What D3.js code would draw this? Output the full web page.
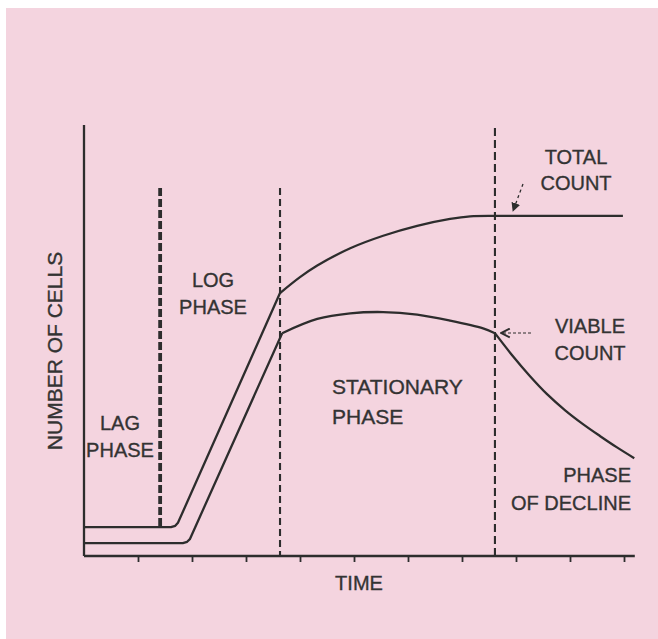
<!DOCTYPE html>
<html>
<head>
<meta charset="utf-8">
<script src="https://cdn.jsdelivr.net/npm/d3@7"></script>
<style>
  html, body { margin: 0; padding: 0; background: #ffffff; }
  svg { display: block; }
  text { font-family: "Liberation Sans", Arial, Helvetica, sans-serif; fill: #333333; stroke: #333333; stroke-width: 0.35px; }
</style>
</head>
<body>
<script>
// ---- data (time units, cell-number units) ----
const ticks = [1, 2, 3, 4, 5, 6, 7, 8, 9, 10];
const phaseBounds = [1.41, 3.63, 7.61];

// total count: growth part (lag + log), stationary rise, flat plateau
const totalGrowth = [[0, 0.67], [1.61, 0.67], [1.69, 0.70], [1.74, 0.77], [3.63, 6.10]];
const totalStationary = [[3.63, 6.10], [4.0, 6.47], [4.32, 6.74], [4.93, 7.14], [5.54, 7.43], [6.17, 7.66], [6.78, 7.82], [7.15, 7.88], [7.61, 7.89]];
const totalPlateau = [[7.61, 7.89], [9.98, 7.89]];

// viable count: growth, stationary, decline
const viableGrowth = [[0, 0.30], [1.83, 0.30], [1.91, 0.33], [1.96, 0.39], [3.67, 5.17]];
const viableStationary = [[3.67, 5.17], [4.32, 5.50], [4.93, 5.63], [5.54, 5.66], [6.17, 5.60], [6.78, 5.46], [7.39, 5.28], [7.61, 5.17]];
const viableDecline = [[7.61, 5.17], [7.94, 4.64], [8.26, 4.17], [8.57, 3.76], [8.91, 3.38], [9.24, 3.06], [9.56, 2.78], [9.87, 2.52], [10.19, 2.27]];

const yAxisLabel = "NUMBER OF CELLS";
const xAxisLabel = "TIME";
const lagLabel = ["LAG", "PHASE"];
const logLabel = ["LOG", "PHASE"];
const stationaryLabel = ["STATIONARY", "PHASE"];
const totalLabel = ["TOTAL", "COUNT"];
const viableLabel = ["VIABLE", "COUNT"];
const declineLabel = ["PHASE", "OF DECLINE"];

// ---- drawing ----
const W = 658, H = 639;
const svg = d3.select("body").append("svg").attr("width", W).attr("height", H);

svg.append("rect").attr("x", 6).attr("y", 8).attr("width", W - 6).attr("height", H - 8).attr("fill", "#f4d4df");

const x = d3.scaleLinear().domain([0, 10]).range([84, 624]);
const y = d3.scaleLinear().domain([0, 10]).range([556, 125]);
const ink = "#2d2d2d";

// axes
const g = svg.append("g");
const xAxis = d3.axisBottom(x).tickValues(ticks).tickSize(6).tickFormat("");
const xa = g.append("g").attr("transform", `translate(0,${y(0)})`).call(xAxis);
xa.select(".domain").remove();
xa.selectAll(".tick line").attr("stroke", ink).attr("stroke-width", 1.8);
g.append("line").attr("x1", x(0)).attr("x2", x(10.2)).attr("y1", y(0)).attr("y2", y(0))
  .attr("stroke", ink).attr("stroke-width", 2.3);
g.append("line").attr("x1", x(0)).attr("x2", x(0)).attr("y1", y(0)).attr("y2", y(10))
  .attr("stroke", ink).attr("stroke-width", 2.3);

// phase boundaries
g.append("line").attr("x1", x(phaseBounds[0])).attr("x2", x(phaseBounds[0]))
  .attr("y1", y(8.54)).attr("y2", y(0.67))
  .attr("stroke", ink).attr("stroke-width", 3.8).attr("stroke-dasharray", "8,3");
g.append("line").attr("x1", x(phaseBounds[1])).attr("x2", x(phaseBounds[1]))
  .attr("y1", y(8.54)).attr("y2", y(0))
  .attr("stroke", ink).attr("stroke-width", 2.1).attr("stroke-dasharray", "7,4");
g.append("line").attr("x1", x(phaseBounds[2])).attr("x2", x(phaseBounds[2]))
  .attr("y1", y(9.93)).attr("y2", y(0))
  .attr("stroke", ink).attr("stroke-width", 2.1).attr("stroke-dasharray", "8,4");

// curves
const lin = d3.line().x(d => x(d[0])).y(d => y(d[1])).curve(d3.curveLinear);
const smooth = d3.line().x(d => x(d[0])).y(d => y(d[1])).curve(d3.curveCatmullRom.alpha(0.5));
[[totalGrowth, lin], [totalStationary, smooth], [totalPlateau, lin], [viableGrowth, lin], [viableStationary, smooth], [viableDecline, smooth]]
  .forEach(([data, gen]) => {
    g.append("path").attr("d", gen(data)).attr("fill", "none")
      .attr("stroke", ink).attr("stroke-width", 2.3).attr("stroke-linejoin", "round");
  });

// arrows
svg.append("defs").append("marker").attr("id", "ah").attr("viewBox", "0 0 10 10")
  .attr("refX", 9).attr("refY", 5).attr("markerWidth", 9).attr("markerHeight", 9)
  .attr("orient", "auto").attr("markerUnits", "userSpaceOnUse")
  .append("path").attr("d", "M0,0 L10,5 L0,10 z").attr("fill", ink);
svg.append("defs").append("marker").attr("id", "ao").attr("viewBox", "0 0 10 10")
  .attr("refX", 9).attr("refY", 5).attr("markerWidth", 11).attr("markerHeight", 11)
  .attr("orient", "auto").attr("markerUnits", "userSpaceOnUse")
  .append("path").attr("d", "M1,1 L9,5 L1,9").attr("fill", "none").attr("stroke", ink).attr("stroke-width", 1.8);

g.append("line").attr("x1", 523).attr("y1", 184).attr("x2", 513).attr("y2", 211)
  .attr("stroke", ink).attr("stroke-width", 1.3).attr("stroke-dasharray", "3,3").attr("marker-end", "url(#ah)");
g.append("line").attr("x1", 531).attr("y1", 333).attr("x2", 501).attr("y2", 333)
  .attr("stroke", ink).attr("stroke-width", 1.2).attr("stroke-dasharray", "3,2").attr("marker-end", "url(#ao)");

// labels
function label(lines, px, py, anchor, gap, size) {
  lines.forEach((t, i) => {
    svg.append("text").attr("x", px).attr("y", py + i * gap)
      .attr("text-anchor", anchor).attr("font-size", size).attr("dominant-baseline", "central").text(t);
  });
}
svg.append("text").attr("transform", "translate(54,351) rotate(-90)")
  .attr("text-anchor", "middle").attr("dominant-baseline", "central").attr("font-size", 21).text(yAxisLabel);
svg.append("text").attr("x", 359).attr("y", 583).attr("text-anchor", "middle")
  .attr("dominant-baseline", "central").attr("font-size", 20).text(xAxisLabel);
label(lagLabel, 120, 423, "middle", 27, 20);
label(logLabel, 213, 280, "middle", 27, 20);
label(stationaryLabel, 332, 386, "start", 30, 21);
label(totalLabel, 576, 157, "middle", 26, 20);
label(viableLabel, 590, 326, "middle", 27, 20);
label(declineLabel, 631, 475, "end", 28, 20);
</script>
</body>
</html>
